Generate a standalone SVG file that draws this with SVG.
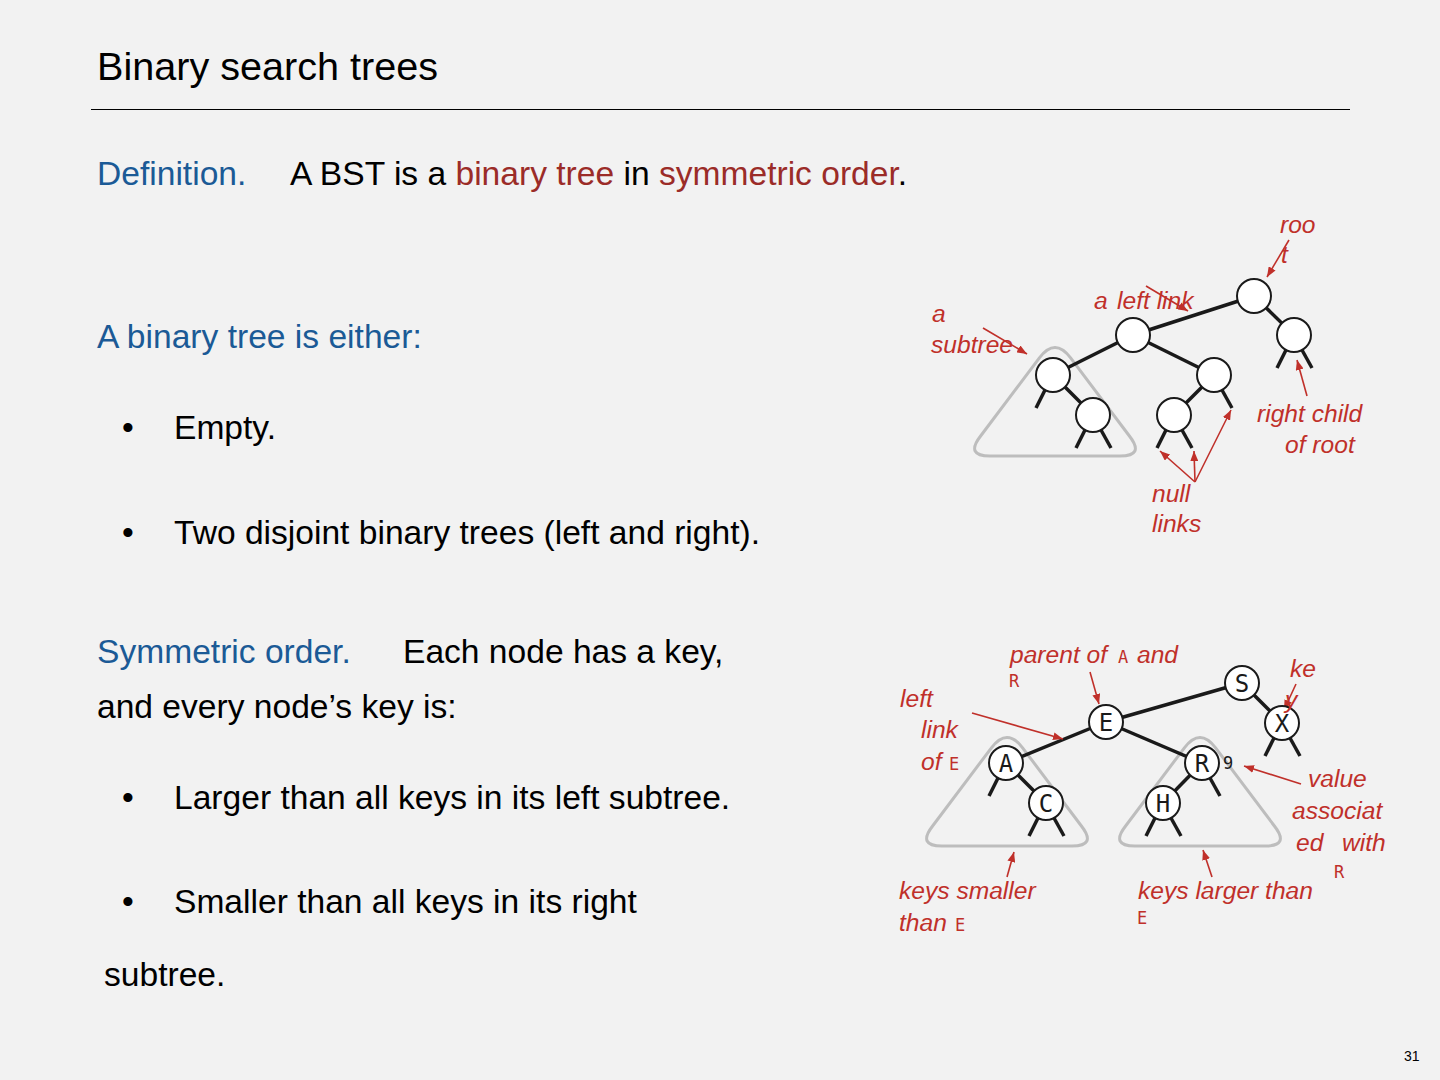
<svg xmlns="http://www.w3.org/2000/svg" width="1440" height="1080" viewBox="0 0 1440 1080">
<defs>
<style>
.bg{fill:#f2f2f2}
.title{font-family:"Liberation Sans",Arial,sans-serif;font-size:39.6px;fill:#000}
.body{font-family:"Liberation Sans",Arial,sans-serif;font-size:33.6px;fill:#000}
.blue{fill:#1b5a96}
.dred{fill:#9b2c28}
.lab{font-family:"Liberation Sans",Arial,sans-serif;font-size:24.6px;font-style:italic;fill:#c0302a}
.key{font-family:"DejaVu Sans Mono",monospace;font-size:17px;font-style:normal;fill:#c0302a}
.edge{stroke:#1a1a1a;stroke-width:3.5;stroke-linecap:butt;fill:none}
.nl{stroke:#1a1a1a;stroke-width:3.5;fill:none}
.node{fill:#fff;stroke:#1a1a1a;stroke-width:2}
.nt{font-family:"DejaVu Sans Mono",monospace;font-size:24px;fill:#1a1a1a;text-anchor:middle}
.tri{fill:none;stroke:#bdbdbd;stroke-width:3}
.arr{stroke:#c0302a;stroke-width:1.6;fill:none;marker-end:url(#ah)}
</style>
<marker id="ah" viewBox="0 0 10 8" refX="10" refY="4" markerWidth="10" markerHeight="8" markerUnits="userSpaceOnUse" orient="auto">
<path d="M0 0 L10 4 L0 8 Z" fill="#c0302a"/>
</marker>
<path id="rtri" d="M -15.6 8.8 Q 0 -12 15.6 8.8 L 74.4 87 Q 90 107 65 107 L -65 107 Q -90 107 -74.4 87 Z"/>
</defs>
<rect class="bg" x="0" y="0" width="1440" height="1080"/>

<g id="heading">
<text class="title" x="97" y="80">Binary search trees</text>
<line x1="91" y1="109.5" x2="1350" y2="109.5" stroke="#000" stroke-width="1"/>
</g>

<g id="text-left">
<text class="body blue" x="97" y="185">Definition.</text>
<text class="body" x="290" y="185">A BST is a <tspan class="dred">binary tree</tspan> in <tspan class="dred">symmetric order</tspan>.</text>
<text class="body blue" x="97" y="348">A binary tree is either:</text>
<text class="body" x="122" y="439">•</text>
<text class="body" x="174" y="439">Empty.</text>
<text class="body" x="122" y="544">•</text>
<text class="body" x="174" y="544">Two disjoint binary trees (left and right).</text>
<text class="body blue" x="97" y="663">Symmetric order.</text>
<text class="body" x="403" y="663">Each node has a key,</text>
<text class="body" x="97" y="718">and every node’s key is:</text>
<text class="body" x="122" y="809">•</text>
<text class="body" x="174" y="809">Larger than all keys in its left subtree.</text>
<text class="body" x="122" y="913">•</text>
<text class="body" x="174" y="913">Smaller than all keys in its right</text>
<text class="body" x="104" y="986">subtree.</text>
</g>

<g id="subtree-outlines">
<use href="#rtri" class="tri" transform="translate(1055 349)"/>
<use href="#rtri" class="tri" transform="translate(1007 739)"/>
<use href="#rtri" class="tri" transform="translate(1200 739)"/>
</g>

<g id="connectors">
<line class="edge" x1="1254" y1="296" x2="1133" y2="335"/>
<line class="edge" x1="1254" y1="296" x2="1294" y2="335"/>
<line class="edge" x1="1133" y1="335" x2="1053" y2="375"/>
<line class="edge" x1="1133" y1="335" x2="1214" y2="375"/>
<line class="edge" x1="1053" y1="375" x2="1093" y2="415"/>
<line class="edge" x1="1214" y1="375" x2="1174" y2="415"/>
<line class="nl" x1="1045" y1="390" x2="1036" y2="408"/>
<line class="nl" x1="1085" y1="430" x2="1076" y2="448"/>
<line class="nl" x1="1101" y1="430" x2="1111" y2="448"/>
<line class="nl" x1="1166" y1="430" x2="1157" y2="448"/>
<line class="nl" x1="1182" y1="430" x2="1192" y2="448"/>
<line class="nl" x1="1222" y1="390" x2="1232" y2="408"/>
<line class="nl" x1="1286" y1="350" x2="1277" y2="368"/>
<line class="nl" x1="1302" y1="350" x2="1312" y2="368"/>
<line class="edge" x1="1242" y1="683" x2="1106" y2="722"/>
<line class="edge" x1="1242" y1="683" x2="1282" y2="723"/>
<line class="edge" x1="1106" y1="722" x2="1006" y2="763"/>
<line class="edge" x1="1106" y1="722" x2="1202" y2="763"/>
<line class="edge" x1="1006" y1="763" x2="1046" y2="803"/>
<line class="edge" x1="1202" y1="763" x2="1163" y2="803"/>
<line class="nl" x1="998" y1="778" x2="989" y2="796"/>
<line class="nl" x1="1038" y1="818" x2="1029" y2="836"/>
<line class="nl" x1="1054" y1="818" x2="1064" y2="836"/>
<line class="nl" x1="1155" y1="818" x2="1146" y2="836"/>
<line class="nl" x1="1171" y1="818" x2="1181" y2="836"/>
<line class="nl" x1="1210" y1="778" x2="1220" y2="796"/>
<line class="nl" x1="1274" y1="738" x2="1265" y2="756"/>
<line class="nl" x1="1290" y1="738" x2="1300" y2="756"/>
<line class="arr" x1="1289" y1="240" x2="1267" y2="277"/>
<line class="arr" x1="1146" y1="286" x2="1188" y2="311"/>
<line class="arr" x1="983" y1="328" x2="1027" y2="354"/>
<line class="arr" x1="1307" y1="396" x2="1297" y2="360"/>
<line class="arr" x1="1195" y1="482" x2="1160" y2="451"/>
<line class="arr" x1="1195" y1="482" x2="1194" y2="451"/>
<line class="arr" x1="1195" y1="482" x2="1231" y2="410"/>
<line class="arr" x1="1090" y1="672" x2="1099" y2="704"/>
<line class="arr" x1="1296" y1="684" x2="1284" y2="710"/>
<line class="arr" x1="972" y1="713" x2="1063" y2="739"/>
<line class="arr" x1="1301" y1="784" x2="1244" y2="766"/>
<line class="arr" x1="1007" y1="877" x2="1014" y2="852"/>
<line class="arr" x1="1212" y1="877" x2="1203" y2="850"/>
</g>

<g id="top-root"><circle class="node" cx="1254" cy="296" r="17"/></g>
<g id="top-n1"><circle class="node" cx="1133" cy="335" r="17"/></g>
<g id="top-n2"><circle class="node" cx="1294" cy="335" r="17"/></g>
<g id="top-n3"><circle class="node" cx="1053" cy="375" r="17"/></g>
<g id="top-n4"><circle class="node" cx="1214" cy="375" r="17"/></g>
<g id="top-n5"><circle class="node" cx="1093" cy="415" r="17"/></g>
<g id="top-n6"><circle class="node" cx="1174" cy="415" r="17"/></g>

<g id="node-S"><circle class="node" cx="1242" cy="683" r="17"/><text class="nt" x="1242" y="691.5">S</text></g>
<g id="node-E"><circle class="node" cx="1106" cy="722" r="17"/><text class="nt" x="1106" y="730.5">E</text></g>
<g id="node-X"><circle class="node" cx="1282" cy="723" r="17"/><text class="nt" x="1282" y="731.5">X</text></g>
<g id="node-A"><circle class="node" cx="1006" cy="763" r="17"/><text class="nt" x="1006" y="771.5">A</text></g>
<g id="node-R"><circle class="node" cx="1202" cy="763" r="17"/><text class="nt" x="1202" y="771.5">R</text><text class="key" x="1223" y="769" style="fill:#1a1a1a">9</text></g>
<g id="node-C"><circle class="node" cx="1046" cy="803" r="17"/><text class="nt" x="1046" y="811.5">C</text></g>
<g id="node-H"><circle class="node" cx="1163" cy="803" r="17"/><text class="nt" x="1163" y="811.5">H</text></g>

<g id="labels-top">
<text class="lab" x="1280" y="233">roo</text>
<text class="lab" x="1281" y="263">t</text>
<text class="lab" x="1094" y="309">a</text>
<text class="lab" x="1117" y="309">left link</text>
<text class="lab" x="932" y="322">a</text>
<text class="lab" x="931" y="353">subtree</text>
<text class="lab" x="1257" y="422">right child</text>
<text class="lab" x="1285" y="453">of root</text>
<text class="lab" x="1152" y="502">null</text>
<text class="lab" x="1152" y="532">links</text>
</g>

<g id="labels-bottom">
<text class="lab" x="1010" y="663">parent of</text>
<text class="key" x="1118" y="663">A</text>
<text class="lab" x="1137" y="663">and</text>
<text class="key" x="1009" y="687">R</text>
<text class="lab" x="1290" y="677">ke</text>
<text class="lab" x="1285" y="708">y</text>
<text class="lab" x="900" y="707">left</text>
<text class="lab" x="921" y="738">link</text>
<text class="lab" x="921" y="770">of</text>
<text class="key" x="949" y="770">E</text>
<text class="lab" x="1308" y="787">value</text>
<text class="lab" x="1292" y="819">associat</text>
<text class="lab" x="1296" y="851">ed</text>
<text class="lab" x="1342" y="851">with</text>
<text class="key" x="1334" y="878">R</text>
<text class="lab" x="899" y="899">keys smaller</text>
<text class="lab" x="899" y="931">than</text>
<text class="key" x="955" y="931">E</text>
<text class="lab" x="1138" y="899">keys larger than</text>
<text class="key" x="1137" y="924">E</text>
</g>

<text x="1404" y="1061" style="font-family:'Liberation Sans',Arial,sans-serif;font-size:14px;fill:#000">31</text>
</svg>
